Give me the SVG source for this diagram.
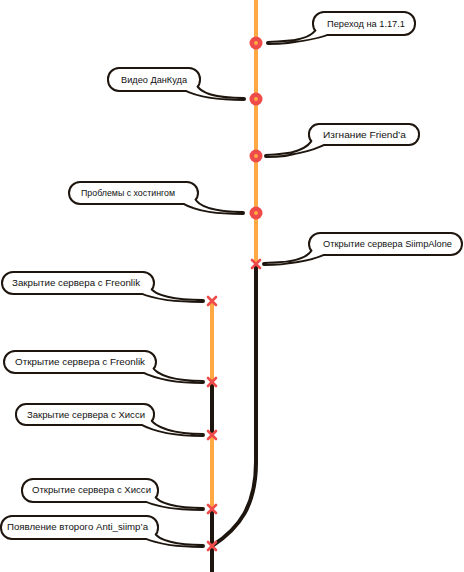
<svg xmlns="http://www.w3.org/2000/svg" width="464" height="572" viewBox="0 0 464 572">
<style>
.or{stroke:#FFA944;stroke-width:4;fill:none}
.bk{stroke:#1E160E;stroke-width:4;fill:none}
.x{stroke:#EF4B4B;stroke-width:2.6;stroke-linecap:round;fill:none}
.dot{fill:#EF4B4B}
.dc{fill:#FFA944}
.so{fill:#1E160E;stroke:#1E160E;stroke-width:4;stroke-linejoin:round}
.sf{fill:#fff;stroke:none}
text{font-family:"Liberation Sans",Arial,sans-serif;font-size:8.6px;fill:#111}
</style>
<defs>
<g id="xm"><path class="x" d="M-4,-4L4,4M4,-4L-4,4"/></g>
<g id="cm"><circle class="dot" r="6.5"/><circle class="dc" r="2"/></g>
</defs>
<g id="connectors">
<path class="or" d="M256,0V264"/>
<path class="bk" d="M256,264V462C256,505 240,528 212,546"/>
<path class="or" d="M212,301V382"/>
<path class="bk" d="M212,382V435"/>
<path class="or" d="M212,435V509"/>
<path class="bk" d="M212,509V572"/>
</g>
<g id="markers">
<use href="#cm" x="256" y="43"/>
<use href="#cm" x="256" y="99"/>
<use href="#cm" x="256" y="156"/>
<use href="#cm" x="256" y="213"/>
<use href="#xm" x="256" y="264"/>
<use href="#xm" x="212" y="301"/>
<use href="#xm" x="212" y="382"/>
<use href="#xm" x="212" y="435"/>
<use href="#xm" x="212" y="509"/>
<use href="#xm" x="212" y="546"/>
</g>
<g id="n1">
<g class="so"><rect x="314" y="13" width="100" height="21" rx="10"/><path d="M318,28C314,38 296,43 268,43C292,42 312,40 330,33Z"/></g>
<g class="sf"><rect x="314" y="13" width="100" height="21" rx="10"/><path d="M318,28C314,38 296,43 268,43C292,42 312,40 330,33Z"/></g>
<text x="327" y="27" textLength="78" lengthAdjust="spacingAndGlyphs">Переход на 1.17.1</text>
</g>
<g id="n2">
<g class="so"><rect x="109" y="69" width="90" height="21" rx="10"/><path d="M195,84C199,95 218,99 244,99C220,99 200,97 184,89Z"/></g>
<g class="sf"><rect x="109" y="69" width="90" height="21" rx="10"/><path d="M195,84C199,95 218,99 244,99C220,99 200,97 184,89Z"/></g>
<text x="121" y="83" textLength="66" lengthAdjust="spacingAndGlyphs">Видео ДанКуда</text>
</g>
<g id="n3">
<g class="so"><rect x="310" y="125" width="108" height="19" rx="9"/><path d="M314,138C310,150 292,156 266,156C288,155 308,152 326,143Z"/></g>
<g class="sf"><rect x="310" y="125" width="108" height="19" rx="9"/><path d="M314,138C310,150 292,156 266,156C288,155 308,152 326,143Z"/></g>
<text x="323" y="138" textLength="83" lengthAdjust="spacingAndGlyphs">Изгнание Friend’a</text>
</g>
<g id="n4">
<g class="so"><rect x="70" y="183" width="127" height="20" rx="10"/><path d="M193,197C197,208 216,213 243,213C218,213 198,211 182,202Z"/></g>
<g class="sf"><rect x="70" y="183" width="127" height="20" rx="10"/><path d="M193,197C197,208 216,213 243,213C218,213 198,211 182,202Z"/></g>
<text x="81" y="196" textLength="94" lengthAdjust="spacingAndGlyphs">Проблемы с хостингом</text>
</g>
<g id="n5">
<g class="so"><rect x="310" y="234" width="151" height="20" rx="10"/><path d="M314,248C310,259 293,264 264,264C289,263 308,261 326,253Z"/></g>
<g class="sf"><rect x="310" y="234" width="151" height="20" rx="10"/><path d="M314,248C310,259 293,264 264,264C289,263 308,261 326,253Z"/></g>
<text x="323" y="247" textLength="129" lengthAdjust="spacingAndGlyphs">Открытие сервера SiimpAlone</text>
</g>
<g id="n6">
<g class="so"><rect x="3" y="273" width="150" height="20" rx="10"/><path d="M149,287C153,297 176,301 203,301C176,301 156,299 140,292Z"/></g>
<g class="sf"><rect x="3" y="273" width="150" height="20" rx="10"/><path d="M149,287C153,297 176,301 203,301C176,301 156,299 140,292Z"/></g>
<text x="12" y="286" textLength="128" lengthAdjust="spacingAndGlyphs">Закрытие сервера с Freonlik</text>
</g>
<g id="n7">
<g class="so"><rect x="5" y="352" width="150" height="20" rx="10"/><path d="M151,366C155,377 177,382 203,382C178,382 158,379 142,371Z"/></g>
<g class="sf"><rect x="5" y="352" width="150" height="20" rx="10"/><path d="M151,366C155,377 177,382 203,382C178,382 158,379 142,371Z"/></g>
<text x="15" y="365" textLength="130" lengthAdjust="spacingAndGlyphs">Открытие сервера с Freonlik</text>
</g>
<g id="n8">
<g class="so"><rect x="17" y="405" width="136" height="19" rx="9"/><path d="M149,418C153,429 176,435 203,435C177,435 157,432 140,423Z"/></g>
<g class="sf"><rect x="17" y="405" width="136" height="19" rx="9"/><path d="M149,418C153,429 176,435 203,435C177,435 157,432 140,423Z"/></g>
<text x="27" y="418" textLength="118" lengthAdjust="spacingAndGlyphs">Закрытие сервера с Хисси</text>
</g>
<g id="n9">
<g class="so"><rect x="23" y="480" width="134" height="21" rx="10"/><path d="M153,495C157,505 178,509 203,509C179,509 160,507 144,500Z"/></g>
<g class="sf"><rect x="23" y="480" width="134" height="21" rx="10"/><path d="M153,495C157,505 178,509 203,509C179,509 160,507 144,500Z"/></g>
<text x="32" y="493" textLength="119" lengthAdjust="spacingAndGlyphs">Открытие сервера с Хисси</text>
</g>
<g id="n10">
<g class="so"><rect x="2" y="517" width="155" height="21" rx="10"/><path d="M153,532C157,542 178,546 203,546C179,546 160,544 144,537Z"/></g>
<g class="sf"><rect x="2" y="517" width="155" height="21" rx="10"/><path d="M153,532C157,542 178,546 203,546C179,546 160,544 144,537Z"/></g>
<text x="7" y="530" textLength="141" lengthAdjust="spacingAndGlyphs">Появление второго Anti_siimp’a</text>
</g>
</svg>
